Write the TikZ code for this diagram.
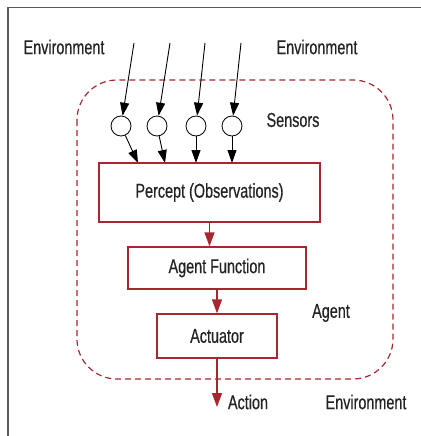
\documentclass[tikz,border=0pt]{standalone}
\usepackage{fontspec}
\setmainfont{Liberation Sans}[FakeStretch=0.72, FakeBold=0.5]
\usetikzlibrary{arrows.meta}
\definecolor{agentred}{RGB}{168,38,48}
\definecolor{framegray}{RGB}{90,90,90}
\definecolor{txt}{RGB}{35,35,35}
\tikzset{
	lbl/.style={text=txt, font=\fontsize{20}{22}\selectfont, inner sep=0pt},
	sensor/.style={draw, circle, minimum size=20pt, inner sep=0pt, line width=0.8pt},
	inarrow/.style={line width=0.9pt, -{Triangle[length=13pt, width=9pt]}},
	redbox/.style={draw=agentred, line width=1.3pt, inner sep=0pt, text=txt, font=\fontsize{20}{22}\selectfont},
	redarrow/.style={draw=agentred, line width=1.3pt, -{Triangle[length=14pt, width=10pt, fill=agentred]}}
}
\begin{document}
\begin{tikzpicture}[x=1pt, y=-1pt]
			%%%%% START %%%%%
			\useasboundingbox (0, 0) rectangle (420, 436);
			
			\draw[framegray, line width=1.5pt] (8, 440) -- (8, 7.5) -- (424, 7.5);
			
			\draw[agentred, line width=1.2pt, dash pattern=on 6pt off 4pt, rounded corners=40pt] (77, 80) rectangle (393, 379);
			
			\node[lbl] (envleft) at (64, 47) {Environment};
			\node[lbl] (envright) at (317, 47) {Environment};
			\node[lbl] (sensors) at (293, 120) {Sensors};
			\node[lbl] (agent) at (331, 313) {Agent};
			\node[lbl] (action) at (248, 402) {Action};
			\node[lbl] (envbottom) at (366, 402) {Environment};
			
			\coordinate (e1) at (134, 43);
			\coordinate (e2) at (170, 43);
			\coordinate (e3) at (205, 43);
			\coordinate (e4) at (241, 43);
			
			\node[sensor] (s1) at (121, 126) {};
			\node[sensor] (s2) at (157, 126) {};
			\node[sensor] (s3) at (196, 126) {};
			\node[sensor] (s4) at (232, 126) {};
			
			\coordinate (p1) at (138, 163);
			\coordinate (p2) at (165, 163);
			\coordinate (p3) at (196, 163);
			\coordinate (p4) at (232, 163);
			
			\draw[inarrow] (e1) -- (s1);
			\draw[inarrow] (e2) -- (s2);
			\draw[inarrow] (e3) -- (s3);
			\draw[inarrow] (e4) -- (s4);
			
			\draw[inarrow] (s1) -- (p1);
			\draw[inarrow] (s2) -- (p2);
			\draw[inarrow] (s3) -- (p3);
			\draw[inarrow] (s4) -- (p4);
			
			\node[redbox, minimum width=221pt, minimum height=59pt] (percept) at (209.5, 192.5) {Percept (Observations)};
			\node[redbox, minimum width=178pt, minimum height=42pt] (agentfn) at (217, 268) {Agent Function};
			\node[redbox, minimum width=120pt, minimum height=44pt] (actuator) at (217, 336) {Actuator};
			
			\coordinate (out) at (217, 407);
			
			\draw[redarrow] (percept.south) -- (percept.south |- agentfn.north);
			\draw[redarrow] (agentfn.south) -- (actuator.north);
			\draw[redarrow] (actuator.south) -- (out);
			
			%%%%% END %%%%%
\end{tikzpicture}
\end{document}
